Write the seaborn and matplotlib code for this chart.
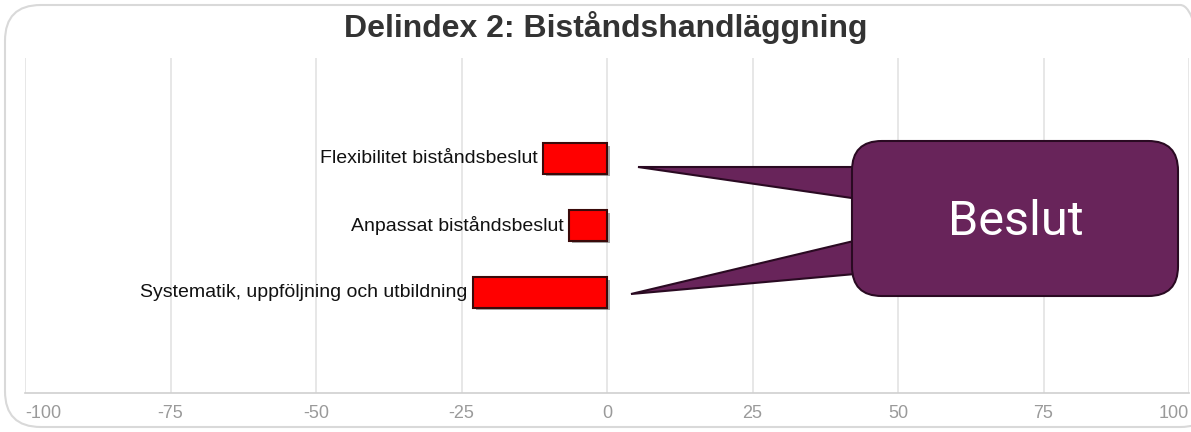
import matplotlib
matplotlib.use("Agg")
import matplotlib.pyplot as plt
import matplotlib.patheffects as pe
from matplotlib.patches import FancyBboxPatch, Polygon
import seaborn as sns
import pandas as pd

categories = ["Flexibilitet biståndsbeslut", "Anpassat biståndsbeslut",
              "Systematik, uppföljning och utbildning"]
values = [-11, -6.5, -23]
ticks = [-100, -75, -50, -25, 0, 25, 50, 75, 100]
title = "Delindex 2: Biståndshandläggning"
callout_text = "Beslut"

df = pd.DataFrame({"cat": categories, "val": values})

sns.set_theme(style="white")
plt.rcParams["font.family"] = ["Liberation Sans", "DejaVu Sans"]

W, H = 1191, 432
fig = plt.figure(figsize=(W / 100, H / 100), dpi=100)
fig.patch.set_facecolor("white")

# outer rounded frame
frame = FancyBboxPatch((5 / W, 5 / H), (W + 20) / W, (H - 10) / H,
                       boxstyle="round,pad=0,rounding_size=0.03",
                       transform=fig.transFigure, facecolor="none",
                       edgecolor="#d9d9d9", linewidth=1.5, mutation_aspect=W / H)
fig.patches.append(frame)

ax = fig.add_axes([25 / W, 39 / H, 1164 / W, 335 / H])
ax.set_facecolor("none")

sns.barplot(data=df, x="val", y="cat", orient="h", color="#ff0000",
            saturation=1, width=0.45, edgecolor="#3a0a0a", linewidth=1.5, ax=ax)
for p in ax.patches:
    p.set_path_effects([pe.SimplePatchShadow(offset=(2, -2), shadow_rgbFace="#000000", alpha=0.35),
                        pe.Normal()])

ax.set_xlim(-100, 100)
ax.set_ylim(len(categories) - 1 + 1.5, -1.5)
ax.set_xticks(ticks)
ax.set_xticklabels([str(t) for t in ticks], color="#9a9a9a", fontsize=13)
labels = ax.get_xticklabels()
labels[0].set_ha("left")
labels[-1].set_ha("right")
ax.set_yticks([])
ax.set_xlabel("")
ax.set_ylabel("")
ax.tick_params(axis="x", length=0, pad=9)
for t in ticks:
    ax.axvline(t, color="#e3e3e3", linewidth=1.2, zorder=0)
for s in ["top", "right", "left"]:
    ax.spines[s].set_visible(False)
ax.spines["bottom"].set_color("#d0d0d0")
ax.spines["bottom"].set_linewidth(1.2)

for i, (c, v) in enumerate(zip(categories, values)):
    ax.annotate(c, xy=(v, i), xytext=(-4, 0), textcoords="offset points",
                ha="right", va="center", fontsize=14, color="#111111")

fig.text(606 / W, 1 - 27 / H, title, ha="center", va="center",
         fontsize=23, fontweight="bold", color="#333333")

# callout
def fx(x):
    return x / W

def fy(y):
    return 1 - y / H

purple = "#68245a"
edge = "#2a0a22"
p1 = Polygon([(fx(638), fy(167)), (fx(900), fy(167)), (fx(900), fy(205))],
             closed=True, transform=fig.transFigure, facecolor=purple,
             edgecolor=edge, linewidth=1.5, zorder=5)
p2 = Polygon([(fx(631), fy(294)), (fx(900), fy(230)), (fx(900), fy(270))],
             closed=True, transform=fig.transFigure, facecolor=purple,
             edgecolor=edge, linewidth=1.5, zorder=5)
fig.patches.extend([p1, p2])
box = FancyBboxPatch((fx(852), fy(296)), (1178 - 852) / W, (296 - 141) / H,
                     boxstyle="round,pad=0,rounding_size=0.025",
                     transform=fig.transFigure, facecolor=purple,
                     edgecolor=edge, linewidth=1.5, zorder=6,
                     mutation_aspect=W / H)
fig.patches.append(box)
cover = FancyBboxPatch((fx(853.5), fy(294.5)), (1176.5 - 853.5) / W, (294.5 - 142.5) / H,
                       boxstyle="round,pad=0,rounding_size=0.023",
                       transform=fig.transFigure, facecolor=purple,
                       edgecolor="none", zorder=7, mutation_aspect=W / H)
fig.patches.append(cover)
fig.text(fx(1016), fy(222), callout_text, ha="center", va="center",
         fontsize=35, color="white", family=["Roboto", "DejaVu Sans"], zorder=8)

fig.savefig("out.png", dpi=100, facecolor="white")
